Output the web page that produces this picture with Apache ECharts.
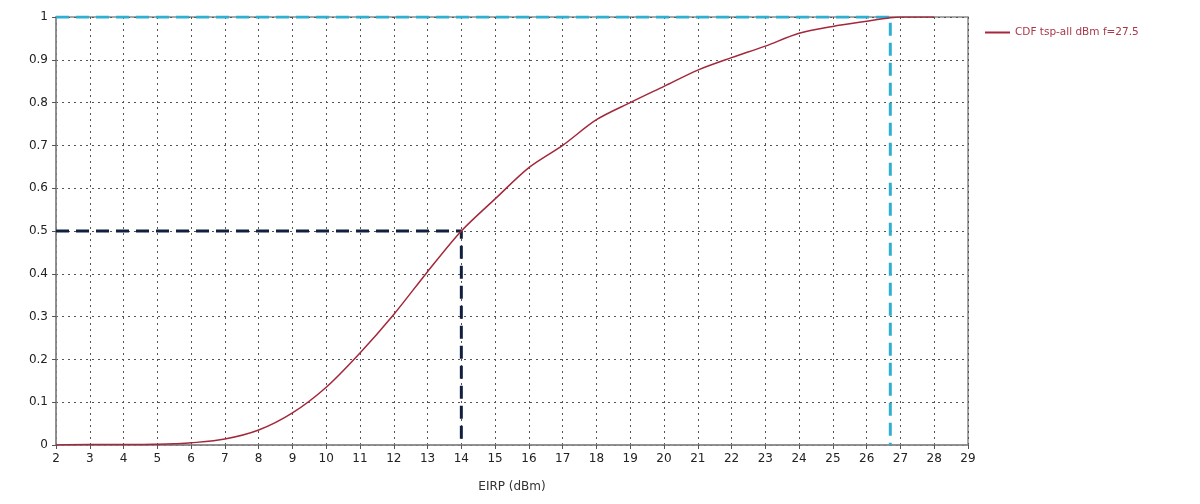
<!DOCTYPE html>
<html>
<head>
<meta charset="utf-8">
<script src="https://cdn.jsdelivr.net/npm/echarts@6/dist/echarts.min.js"></script>
<style>
  html, body { margin: 0; padding: 0; background: #ffffff; }
  #chart { width: 1200px; height: 504px; }
</style>
</head>
<body>
<div id="chart"></div>
<script>
// CDF of EIRP
var eirp = [2, 3, 4, 5, 5.5, 6, 7, 8, 9, 10, 11, 12, 13, 14, 15, 16, 17, 18, 19, 20, 21, 22, 23, 24, 25, 26, 26.7, 27, 28];
var cdf  = [0, 0.001, 0.001, 0.002, 0.003, 0.005, 0.014, 0.035, 0.075, 0.135, 0.215, 0.305, 0.405, 0.5, 0.575, 0.648, 0.70, 0.76, 0.80, 0.838, 0.876, 0.905, 0.932, 0.962, 0.978, 0.99, 0.998, 1.0, 1.0];
var seriesName = 'CDF tsp-all dBm f=27.5';

// guide lines: median and max
var medianX = 14, medianY = 0.5;
var maxX = 26.7, maxY = 1;
var xStart = 2;

var chart = echarts.init(document.getElementById('chart'));
var font = 'DejaVu Sans';

var option = {
  backgroundColor: '#ffffff',
  animation: false,
  grid: {
    left: 56,
    right: 232,
    top: 17,
    bottom: 59,
    show: true,
    borderColor: '#8a8a8a',
    borderWidth: 1.5
  },
  legend: {
    orient: 'vertical',
    left: 980,
    top: 22,
    data: [{ name: seriesName, icon: 'rect' }],
    itemWidth: 25,
    itemHeight: 2,
    itemGap: 8,
    textStyle: { color: '#a8384a', fontFamily: font, fontSize: 10.5 }
  },
  xAxis: {
    type: 'value',
    min: 2,
    max: 29,
    interval: 1,
    name: 'EIRP (dBm)',
    nameLocation: 'middle',
    nameGap: 36,
    nameTextStyle: { color: '#333', fontFamily: font, fontSize: 12 },
    axisLine: { lineStyle: { color: '#8a8a8a', width: 1.5 } },
    axisTick: { show: true, length: 4, lineStyle: { color: '#555' } },
    axisLabel: { color: '#222', fontFamily: font, fontSize: 12, margin: 8 },
    splitLine: { show: true, lineStyle: { color: '#555', type: [2, 4], width: 1 } }
  },
  yAxis: {
    type: 'value',
    min: 0,
    max: 1,
    interval: 0.1,
    axisLine: { show: true, lineStyle: { color: '#8a8a8a', width: 1.5 } },
    axisTick: { show: true, length: 4, lineStyle: { color: '#555' } },
    axisLabel: {
      color: '#222', fontFamily: font, fontSize: 12, margin: 8,
      formatter: function (v) { return +v.toFixed(1) + ''; }
    },
    splitLine: { show: true, lineStyle: { color: '#555', type: [2, 4], width: 1 } }
  },
  series: [
    {
      name: 'median',
      type: 'line',
      symbol: 'none',
      silent: true,
      z: 3,
      lineStyle: { color: '#10203e', width: 3, type: [13, 7] },
      data: [[xStart, medianY], [medianX, medianY], [medianX, 0]]
    },
    {
      name: 'max',
      type: 'line',
      symbol: 'none',
      silent: true,
      z: 3,
      lineStyle: { color: '#2fb0d2', width: 3, type: [13, 7] },
      data: [[xStart, maxY], [maxX, maxY], [maxX, 0]]
    },
    {
      name: seriesName,
      type: 'line',
      symbol: 'none',
      smooth: 0.3,
      z: 4,
      lineStyle: { color: '#a3283a', width: 1.5 },
      itemStyle: { color: '#a3283a' },
      data: eirp.map(function (x, i) { return [x, cdf[i]]; })
    }
  ]
};

chart.setOption(option);
</script>
</body>
</html>
